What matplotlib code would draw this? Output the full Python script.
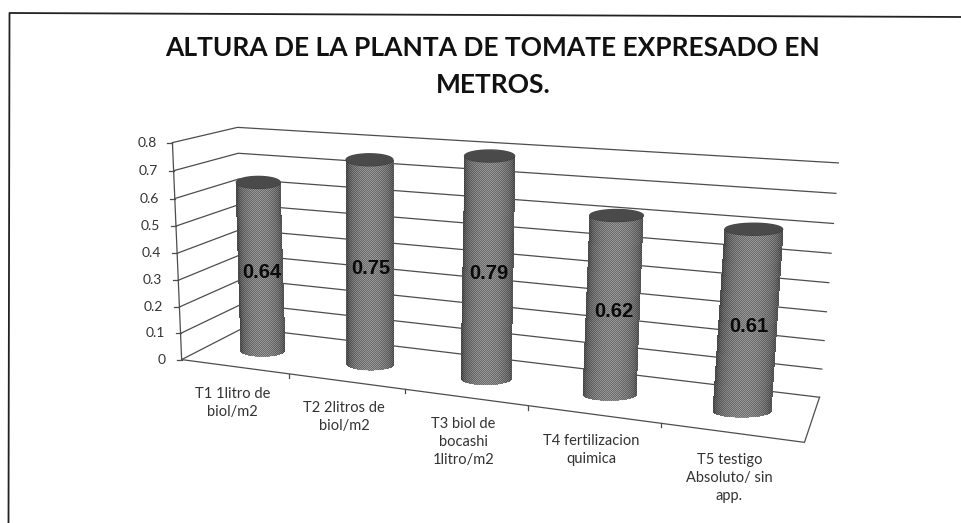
import numpy as np
import matplotlib
matplotlib.use('Agg')
import matplotlib.pyplot as plt
from matplotlib.path import Path

title_lines = ['ALTURA DE LA PLANTA DE TOMATE EXPRESADO EN', 'METROS.']
categories = [['T1 1litro de', 'biol/m2'],
              ['T2 2litros de', 'biol/m2'],
              ['T3 biol de', 'bocashi', '1litro/m2'],
              ['T4 fertilizacion', 'quimica'],
              ['T5 testigo', 'Absoluto/ sin', 'app.']]
values = [0.64, 0.75, 0.79, 0.62, 0.61]
value_labels = ['0.64', '0.75', '0.79', '0.62', '0.61']
y_ticks = [0, 0.1, 0.2, 0.3, 0.4, 0.5, 0.6, 0.7, 0.8]
y_tick_labels = ['0', '0.1', '0.2', '0.3', '0.4', '0.5', '0.6', '0.7', '0.8']

W, H = 961, 523
n = len(values)

# camera fitted on the frame of the 3d box: (category, value, depth) -> pixel
world = np.array([[0, 0, 0], [5, 0, 0], [0, 0, 1], [5, 0, 1], [0, .8, 0], [0, .8, 1], [5, .8, 1],
                  [1, 0, 0], [2, 0, 0], [3, 0, 0], [4, 0, 0]], float)
pix = np.array([[183, 357], [805, 443], [241, 330], [820, 395], [170, 143], [240, 127], [838, 163],
                [291, 373], [405, 390], [528, 406], [660, 425]], float)
rows = []
for (a, b, c), (u, v) in zip(world, pix):
    rows.append([a, b, c, 1, 0, 0, 0, 0, -u*a, -u*b, -u*c, -u])
    rows.append([0, 0, 0, 0, a, b, c, 1, -v*a, -v*b, -v*c, -v])
P = np.linalg.svd(np.array(rows))[2][-1].reshape(3, 4)


def proj(x, y, z):
    x, y, z = np.broadcast_arrays(x, y, z)
    q = P @ np.array([x.ravel(), y.ravel(), z.ravel(), np.ones(x.size)])
    return (q[0]/q[2]).reshape(x.shape), (q[1]/q[2]).reshape(x.shape)


fig = plt.figure(figsize=(W/100, H/100), dpi=100, facecolor='white')
ax = fig.add_axes([0, 0, 1, 1])
ax.set_xlim(0, W)
ax.set_ylim(H, 0)
ax.axis('off')

# page frame, only top and left survive the scan
ax.plot([8.5, 9.5, W], [H, 13, 17], color='#222222', lw=1.3)

for i, line in enumerate(title_lines):
    ax.text(493, 48 + 37*i, line, ha='center', va='center', fontsize=19, fontweight='bold',
            family='Lato', color='#111111')

grid = '#4d4d4d'
for t, lab in zip(y_ticks, y_tick_labels):
    x, y = proj([0, 0, 5], t, [0, 1, 1])
    ax.plot(x, y, color=grid, lw=0.9, zorder=1)
    ax.plot([x[0]-5, x[0]], [y[0], y[0]], color=grid, lw=0.9, zorder=1)
    ax.text(x[0]-16, y[0], lab, ha='right', va='center', fontsize=10, family='Lato', color='#333333')

x, y = proj(0, [0, .8], 0)
ax.plot(x, y, color=grid, lw=0.9)
x, y = proj([0, 5, 5], 0, [0, 0, 1])
ax.plot(x, y, color=grid, lw=0.9)
for c in range(1, n):
    x, y = proj(c, 0, 0)
    ax.plot([x, x], [y, y+4], color=grid, lw=0.9)

# checker image clipped to each cylinder stands in for the printed halftone
checker = np.zeros((H, W, 4))
checker[..., 3] = (np.indices((H, W)).sum(axis=0) % 2)*0.3

r = 0.21
depth = 0.46
cap = 6
for c, v in enumerate(values):
    x0, y0 = proj(c + .5, 0, depth)
    x1, y1 = proj(c + .5, v, depth)
    xa, _ = proj(c + .5 - r, 0, depth)
    xb, _ = proj(c + .5 + r, 0, depth)
    a = (xb - xa)/2
    th = np.linspace(0, np.pi, 60)
    # ring points drawn in pixels so the caps stay flat like in the printed chart
    bx, by = x0 + a*np.cos(th), y0 + cap*np.sin(th)
    tx, ty = x1 + a*np.cos(th), y1 + cap*np.sin(th)
    X = np.stack([bx, tx], axis=1)
    Y = np.stack([by, ty], axis=1)
    shade = 0.30 + 0.30*np.sin(th[:-1] + th[1]/2)
    ax.pcolormesh(X, Y, shade[:, None], cmap='gray', vmin=0, vmax=1, shading='flat', zorder=3)
    t2 = np.linspace(0, 2*np.pi, 60)
    cx, cy = x1 + a*np.cos(t2), y1 + cap*np.sin(t2)
    ax.fill(cx, cy, color='#4a4a4a', zorder=4)
    outline = np.vstack([np.column_stack([bx, by]), np.column_stack([tx, ty])[::-1]])
    im = ax.imshow(checker, extent=(0, W, H, 0), interpolation='nearest', zorder=4.5, aspect='auto')
    im.set_clip_path(Path(np.vstack([outline, outline[:1]])), ax.transData)
    ax.text(x1 + (x0-x1)/2 + 1, (y0 + y1)/2 + 6, value_labels[c], ha='center', va='center', fontsize=14.5,
            fontweight='bold', family='Liberation Sans', color='#0a0a0a', zorder=5)
    fx, fy = proj(c + .5, 0, 0)
    for k, line in enumerate(categories[c]):
        ax.text(fx - 2, fy + 27 + 18*k, line, ha='center', va='center', fontsize=10.5, family='Lato',
                color='#333333')

ax.set_xlim(0, W)
ax.set_ylim(H, 0)
fig.savefig('out.png', dpi=100)
